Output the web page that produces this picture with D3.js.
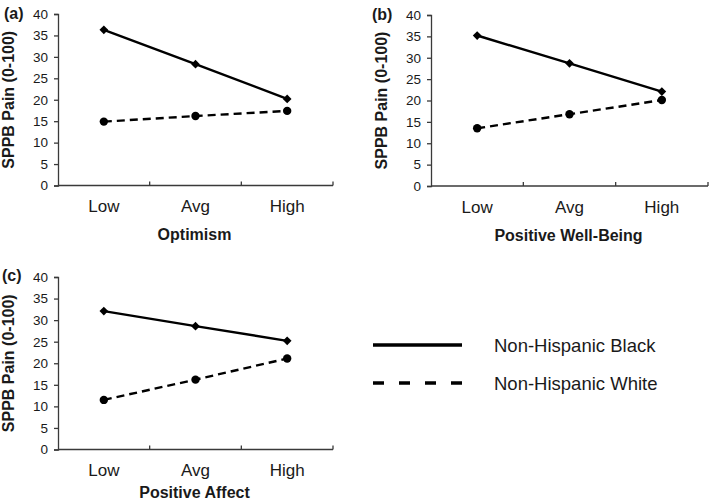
<!DOCTYPE html>
<html><head><meta charset="utf-8">
<script src="https://cdn.jsdelivr.net/npm/d3@7"></script>
<style>body{margin:0;background:#fff}svg{display:block}</style>
</head><body>
<svg id="c" width="709" height="502"></svg>
<script>
const categories = ["Low", "Avg", "High"];
const yTicks = [0, 5, 10, 15, 20, 25, 30, 35, 40];
const panelLetters = ["(a)", "(b)", "(c)"];
const panelTitles = ["Optimism", "Positive Well-Being", "Positive Affect"];
const blackA = [36.3, 28.3, 20.2];
const whiteA = [14.9, 16.2, 17.4];
const blackB = [35.2, 28.7, 22.1];
const whiteB = [13.5, 16.8, 20.1];
const blackC = [32.1, 28.6, 25.2];
const whiteC = [11.5, 16.2, 21.1];
const seriesNames = ["Non-Hispanic Black", "Non-Hispanic White"];

const svg = d3.select("#c");
const font = "'Liberation Sans', Arial, sans-serif";
const axisCol = "#3a3a3a";
const txtCol = "#1a1a1a";

const panels = [
  {x0: 58, x1: 333, yTop: 14, yBot: 185.5, black: blackA, white: whiteA, lx: 4, ly: 19, ylabX: 14, titleY: 240},
  {x0: 431, x1: 708, yTop: 15, yBot: 186, black: blackB, white: whiteB, lx: 372, ly: 20, ylabX: 387, titleY: 240.5},
  {x0: 58, x1: 333, yTop: 277, yBot: 449.5, black: blackC, white: whiteC, lx: 2, ly: 281, ylabX: 14, titleY: 497.5}
];

panels.forEach((p, i) => {
  const g = svg.append("g");
  const x = d3.scaleBand().domain(categories).range([p.x0, p.x1]).padding(0);
  const y = d3.scaleLinear().domain([0, 40]).range([p.yBot, p.yTop]);

  const ya = g.append("g").attr("transform", `translate(${p.x0},0)`)
    .call(d3.axisLeft(y).tickValues(yTicks).tickSize(4).tickPadding(6).tickFormat(d3.format("d")));
  ya.select(".domain").attr("stroke", axisCol).attr("stroke-width", 1.3);
  ya.selectAll(".tick line").attr("stroke", axisCol).attr("stroke-width", 1.3);
  ya.selectAll("text").attr("font-family", font).attr("font-size", 13.5).attr("fill", txtCol);

  g.append("line").attr("x1", p.x0).attr("x2", p.x1).attr("y1", p.yBot).attr("y2", p.yBot)
    .attr("stroke", axisCol).attr("stroke-width", 1.3);
  const bounds = categories.map(c => x(c)).concat([p.x1]);
  g.selectAll(".xt").data(bounds.slice(1)).join("line")
    .attr("x1", d => d).attr("x2", d => d).attr("y1", p.yBot).attr("y2", p.yBot - 4)
    .attr("stroke", axisCol).attr("stroke-width", 1.3);
  g.selectAll(".xl").data(categories).join("text")
    .attr("x", d => x(d) + x.bandwidth() / 2).attr("y", p.yBot + 26.5)
    .attr("text-anchor", "middle").attr("font-family", font).attr("font-size", 17)
    .attr("fill", txtCol).text(d => d);

  g.append("text").attr("x", (p.x0 + p.x1) / 2 - 1).attr("y", p.titleY)
    .attr("text-anchor", "middle").attr("font-family", font).attr("font-size", 16)
    .attr("font-weight", "bold").attr("fill", txtCol).text(panelTitles[i]);

  g.append("text").attr("transform", `translate(${p.ylabX},${(p.yTop + p.yBot) / 2}) rotate(-90)`)
    .attr("text-anchor", "middle").attr("font-family", font).attr("font-size", 16)
    .attr("font-weight", "bold").attr("fill", txtCol).text("SPPB Pain (0-100)");

  g.append("text").attr("x", p.lx).attr("y", p.ly).attr("font-family", font)
    .attr("font-size", 16).attr("font-weight", "bold").attr("fill", txtCol).text(panelLetters[i]);

  const line = d3.line().x((d, j) => x(categories[j]) + x.bandwidth() / 2).y(d => y(d));
  g.append("path").datum(p.black).attr("d", line).attr("fill", "none")
    .attr("stroke", "#000").attr("stroke-width", 2.4);
  g.append("path").datum(p.white).attr("d", line).attr("fill", "none")
    .attr("stroke", "#000").attr("stroke-width", 2.4).attr("stroke-dasharray", "8,5");

  g.selectAll(".dm").data(p.black).join("path")
    .attr("d", d3.symbol(d3.symbolSquare, 38))
    .attr("transform", (d, j) => `translate(${x(categories[j]) + x.bandwidth() / 2},${y(d)}) rotate(45)`)
    .attr("fill", "#000");
  g.selectAll(".cm").data(p.white).join("circle")
    .attr("cx", (d, j) => x(categories[j]) + x.bandwidth() / 2).attr("cy", d => y(d))
    .attr("r", 4.2).attr("fill", "#000");
});

const leg = svg.append("g");
seriesNames.forEach((name, i) => {
  const yy = 345 + i * 38;
  leg.append("line").attr("x1", 373).attr("x2", 462).attr("y1", yy).attr("y2", yy)
    .attr("stroke", "#000").attr("stroke-width", 3.5)
    .attr("stroke-dasharray", i === 1 ? "11,15" : null);
  leg.append("text").attr("x", 494).attr("y", yy + 6.5).attr("font-family", font)
    .attr("font-size", 18.5).attr("fill", txtCol).text(name);
});
</script>
</body></html>
